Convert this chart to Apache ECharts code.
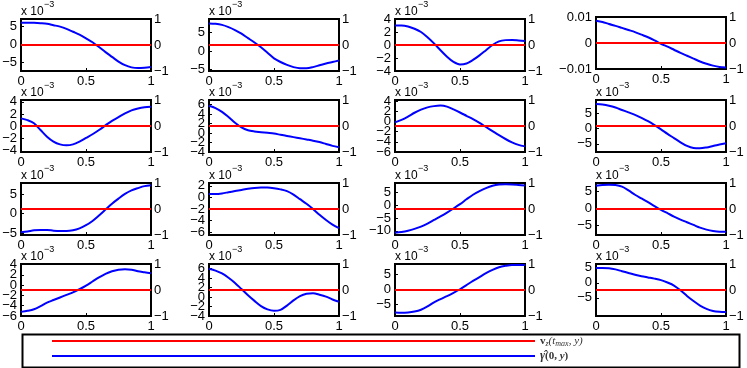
<!DOCTYPE html>
<html>
<head>
<meta charset="utf-8">
<script src="https://cdn.jsdelivr.net/npm/echarts@6/dist/echarts.min.js"></script>
<style>
  html, body { margin: 0; padding: 0; background: #fff; }
  #chart { width: 747px; height: 368px; }
</style>
</head>
<body>
<div id="chart"></div>
<script>
// sample positions along y (0..1), shared by every panel
const xs = [0, 0.05, 0.1, 0.15, 0.2, 0.25, 0.3, 0.35, 0.4, 0.45, 0.5,
            0.55, 0.6, 0.65, 0.7, 0.75, 0.8, 0.85, 0.9, 0.95, 1];

// gamma_hat(0,y) per panel, in units of 1e-3 (row by row)
const p1  = [6.0, 6.0, 5.95, 5.85, 5.7, 5.3, 4.9, 4.3, 3.5, 2.7, 1.7, 0.6, -0.7, -2.1, -3.4, -4.7, -5.7, -6.3, -6.5, -6.4, -6.2];
const p2  = [7.5, 7.4, 7.1, 6.5, 5.7, 4.7, 3.5, 2.3, 1.0, -0.5, -2.0, -3.0, -3.8, -4.4, -4.7, -4.7, -4.4, -3.9, -3.4, -3.0, -2.6];
const p3  = [3.0, 3.0, 2.85, 2.5, 2.0, 1.2, 0.25, -0.8, -1.8, -2.6, -3.0, -2.85, -2.3, -1.6, -0.8, 0.0, 0.55, 0.75, 0.78, 0.7, 0.6];
const p4  = [8.6, 8.1, 7.3, 6.6, 5.8, 5.0, 4.2, 3.2, 2.2, 1.0, -0.3, -1.4, -2.6, -3.8, -4.9, -6.0, -7.1, -8.0, -8.7, -9.2, -9.4];
const p5  = [1.3, 1.0, 0.5, -0.6, -1.7, -2.5, -2.95, -3.1, -2.95, -2.5, -1.9, -1.3, -0.6, 0.15, 0.9, 1.5, 2.1, 2.6, 2.9, 3.1, 3.2];
const p6  = [5.8, 5.3, 4.5, 3.4, 2.2, 1.2, 0.6, 0.35, 0.2, 0.05, -0.1, -0.35, -0.6, -0.85, -1.1, -1.35, -1.6, -1.9, -2.3, -2.7, -3.0];
const p7  = [-0.2, 0.3, 0.95, 1.7, 2.3, 2.75, 3.0, 3.1, 2.9, 2.35, 1.75, 1.1, 0.45, -0.3, -1.1, -1.9, -2.7, -3.45, -4.1, -4.6, -4.9];
const p8  = [8.2, 8.0, 7.6, 7.0, 6.2, 5.4, 4.6, 3.6, 2.5, 1.2, -0.2, -1.7, -3.1, -4.5, -5.7, -6.4, -6.5, -6.2, -5.7, -5.2, -4.8];
const p9  = [-4.8, -4.6, -4.3, -4.2, -4.2, -4.4, -4.5, -4.5, -4.3, -3.8, -3.0, -1.9, -0.5, 1.0, 2.5, 3.8, 5.0, 5.9, 6.5, 7.0, 7.2];
const p10 = [0.6, 0.6, 0.7, 0.9, 1.1, 1.3, 1.5, 1.65, 1.7, 1.7, 1.6, 1.4, 1.1, 0.5, -0.3, -1.1, -2.0, -3.0, -3.9, -4.7, -5.3];
const p11 = [-10.7, -10.4, -9.9, -9.2, -8.3, -7.1, -5.7, -4.3, -2.8, -1.2, 0.5, 2.4, 4.2, 5.6, 6.8, 7.7, 8.2, 8.3, 8.2, 8.0, 7.8];
const p12 = [6.7, 6.9, 7.0, 6.9, 6.4, 5.3, 4.0, 2.9, 1.8, 0.6, -0.5, -1.5, -2.5, -3.4, -4.2, -5.0, -5.8, -6.4, -6.8, -7.0, -7.0];
const p13 = [-5.2, -5.0, -4.7, -4.1, -3.4, -2.9, -2.4, -1.9, -1.4, -0.8, -0.1, 0.7, 1.5, 2.2, 2.7, 3.0, 3.1, 3.0, 2.7, 2.5, 2.3];
const p14 = [6.0, 5.6, 5.0, 4.1, 3.0, 1.7, 0.4, -0.8, -1.9, -2.6, -2.9, -2.7, -1.8, -0.7, 0.2, 0.7, 0.8, 0.5, 0.1, -0.5, -1.0];
const p15 = [-7.8, -7.9, -7.8, -7.5, -6.9, -5.8, -4.4, -3.3, -2.3, -1.2, 0, 1.4, 2.8, 4.1, 5.4, 6.5, 7.4, 7.9, 8.2, 8.2, 8.2];
const p16 = [5.0, 5.0, 4.9, 4.5, 3.9, 3.3, 2.7, 2.2, 1.8, 1.4, 0.9, 0.1, -0.9, -2.5, -4.4, -6.1, -7.6, -8.7, -9.4, -9.7, -9.8];

// v_z(t_max, y) on the right axis
const vz = [0, 0];
const vzX = [0, 1];

const panelValues = [p1, p2, p3, p4, p5, p6, p7, p8, p9, p10, p11, p12, p13, p14, p15, p16];

// left axis limits and tick values (1e-3 units)
const leftLims = [
  [-7.3, 7.0], [-5.45, 8.7], [-4, 4], [-10, 10],
  [-4.2, 4.3], [-4, 7], [-6, 4.2], [-7.7, 9.5],
  [-5.5, 7.8], [-6.5, 2.5], [-11.6, 8.8], [-8, 7.5],
  [-6, 4.1], [-4, 7], [-9, 8.5], [-11.1, 6.3]
];
const leftTicks = [
  [-5, 0, 5], [-5, 0, 5], [-4, -2, 0, 2, 4], [-10, 0, 10],
  [-4, -2, 0, 2, 4], [-4, -2, 0, 2, 4, 6], [-6, -4, -2, 0, 2, 4], [-5, 0, 5],
  [-5, 0, 5], [-6, -4, -2, 0, 2], [-10, -5, 0, 5], [-5, 0, 5],
  [-6, -4, -2, 0, 2, 4], [-4, -2, 0, 2, 4, 6], [-5, 0, 5], [-5, 0, 5]
];

const colLeft = [21, 209, 395, 596];
const rowTop = [19, 100, 183, 264];
const boxW = 130, boxH = 52;

const fontFam = '"Liberation Sans", Arial, sans-serif';
const serif = '"Liberation Serif", serif';
const minus = s => String(s).replace('-', '\u2212');

const chart = echarts.init(document.getElementById('chart'));

const grids = [], xAxes = [], yAxes = [], series = [], graphics = [];

const tickLabel = {
  color: '#000', fontSize: 13, fontFamily: fontFam,
  showMinLabel: true, showMaxLabel: true, hideOverlap: false
};

function leftAxis(i, ticks, isP4) {
  return {
    type: 'value', gridIndex: i, position: 'left', offset: 0,
    min: leftLims[i][0], max: leftLims[i][1],
    axisLine: { show: false, onZero: false },
    axisTick: { show: true, inside: true, length: 3, customValues: ticks, lineStyle: { color: '#000' } },
    splitLine: { show: false },
    axisLabel: Object.assign({}, tickLabel, {
      margin: 4, customValues: ticks,
      formatter: v => minus(isP4 ? v / 1000 : v)
    })
  };
}

panelValues.forEach(function (vals, i) {
  const r = Math.floor(i / 4), c = i % 4;
  const top = (i === 3) ? rowTop[r] - 2 : rowTop[r];
  const isP4 = (i === 3);
  grids.push({
    left: colLeft[c], top: top, width: boxW, height: boxH,
    show: true, borderColor: '#000', borderWidth: 2, backgroundColor: '#fff',
    containLabel: false, outerBoundsMode: 'none'
  });
  xAxes.push({
    type: 'value', gridIndex: i, min: 0, max: 1, interval: 0.5,
    axisLine: { show: false, onZero: false },
    axisTick: { show: true, inside: true, length: 3, lineStyle: { color: '#000' } },
    splitLine: { show: false },
    axisLabel: Object.assign({}, tickLabel, { margin: 4, formatter: v => String(v) })
  });

  // crowded tick sets are split over two stacked left axes so no label is dropped
  const ticks = leftTicks[i];
  const leftIdx = yAxes.length;
  if (ticks.length > 3) {
    yAxes.push(leftAxis(i, ticks.filter((t, k) => k % 2 === 0), isP4));
    yAxes.push(leftAxis(i, ticks.filter((t, k) => k % 2 === 1), isP4));
  } else {
    yAxes.push(leftAxis(i, ticks, isP4));
  }
  const rightIdx = yAxes.length;
  yAxes.push({
    type: 'value', gridIndex: i, position: 'right',
    min: -1, max: 1, interval: 1,
    axisLine: { show: false, onZero: false },
    axisTick: { show: true, inside: true, length: 3, lineStyle: { color: '#000' } },
    splitLine: { show: false },
    axisLabel: Object.assign({}, tickLabel, { margin: 3, formatter: v => minus(v) })
  });

  series.push({
    name: 'gamma', type: 'line', xAxisIndex: i, yAxisIndex: leftIdx,
    data: xs.map((x, k) => [x, vals[k]]),
    smooth: 0.3, showSymbol: false, silent: true, z: 3,
    lineStyle: { color: '#0000ff', width: 2 }, itemStyle: { color: '#0000ff' }
  });
  series.push({
    name: 'vz', type: 'line', xAxisIndex: i, yAxisIndex: rightIdx,
    data: vzX.map((x, k) => [x, vz[k]]),
    showSymbol: false, silent: true, z: 4,
    lineStyle: { color: '#ff0000', width: 2 }, itemStyle: { color: '#ff0000' }
  });
  if (!isP4) {
    graphics.push({
      type: 'text', left: colLeft[c], top: top - 13,
      style: { text: 'x 10', fontSize: 12, fontFamily: fontFam, fill: '#000' }
    });
    graphics.push({
      type: 'text', left: colLeft[c] + 23, top: top - 19,
      style: { text: '\u22123', fontSize: 9, fontFamily: fontFam, fill: '#000' }
    });
  }
});

// legend frame
graphics.push({
  type: 'rect', left: 20, top: 332,
  shape: { width: 717, height: 33 },
  style: { fill: 'none', stroke: '#000', lineWidth: 2 }
});

const legendRich = {
  b: { fontFamily: serif, fontSize: 11, fontWeight: 'bold', color: '#333', lineHeight: 14 },
  i: { fontFamily: serif, fontSize: 11, fontStyle: 'italic', color: '#333', lineHeight: 14 },
  s: { fontFamily: serif, fontSize: 8, fontStyle: 'italic', color: '#333', lineHeight: 14, verticalAlign: 'bottom' },
  g: { fontFamily: serif, fontSize: 12, fontStyle: 'italic', fontWeight: 'bold', color: '#333', lineHeight: 14 },
  n: { fontFamily: serif, fontSize: 11, fontWeight: 'bold', color: '#333', lineHeight: 14 },
  bi: { fontFamily: serif, fontSize: 11, fontWeight: 'bold', fontStyle: 'italic', color: '#333', lineHeight: 14 }
};

function legendAt(name, top) {
  return {
    data: [name], left: 52, top: top,
    icon: 'rect', itemWidth: 483, itemHeight: 2, itemGap: 0, padding: 0,
    selectedMode: false,
    formatter: function (n) {
      return n === 'vz'
        ? '{b|v}{s|z}{i|(t}{s|max}{i|, y)}'
        : '{g|\u03b3\u0302}{n|(0, }{bi|y}{n|)}';
    },
    textStyle: { color: '#333', fontFamily: serif, fontSize: 11, lineHeight: 14, rich: legendRich }
  };
}

const option = {
  animation: false,
  grid: grids,
  xAxis: xAxes,
  yAxis: yAxes,
  series: series,
  graphic: graphics,
  legend: [legendAt('vz', 334), legendAt('gamma', 349)]
};

chart.setOption(option);

window.addEventListener('resize', function () {
  chart.resize();
});
</script>
</body>
</html>
